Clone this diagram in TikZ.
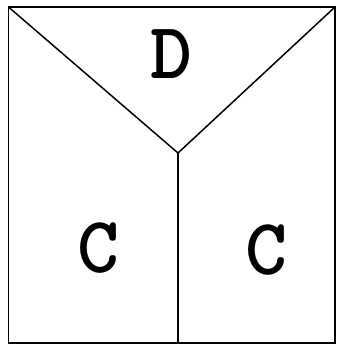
\documentclass[tikz,border=0pt]{standalone}
\usepackage{fontspec}
\begin{document}
\begin{tikzpicture}[x=1pt,y=-1pt,
  edge/.style={draw=black,line width=1.5pt},
  lbl/.style={font=\fontsize{80}{80}\selectfont\ttfamily\bfseries,inner sep=0pt,anchor=center}]
\useasboundingbox (0,0) rectangle (337,345);
\coordinate (tl) at (8.5,7);
\coordinate (tr) at (335,7);
\coordinate (bl) at (8.5,343);
\coordinate (br) at (335,343);
\coordinate (j) at (178,153);
\coordinate (bm) at (178,343);
\draw[edge] (tl) rectangle (br);
\draw[edge] (tl) -- (j) -- (tr);
\draw[edge] (j) -- (bm);
\node[lbl] (d) at (171,54) {D};
\node[lbl] (c1) at (98,248) {C};
\node[lbl] (c2) at (266,250) {C};
\end{tikzpicture}
\end{document}
